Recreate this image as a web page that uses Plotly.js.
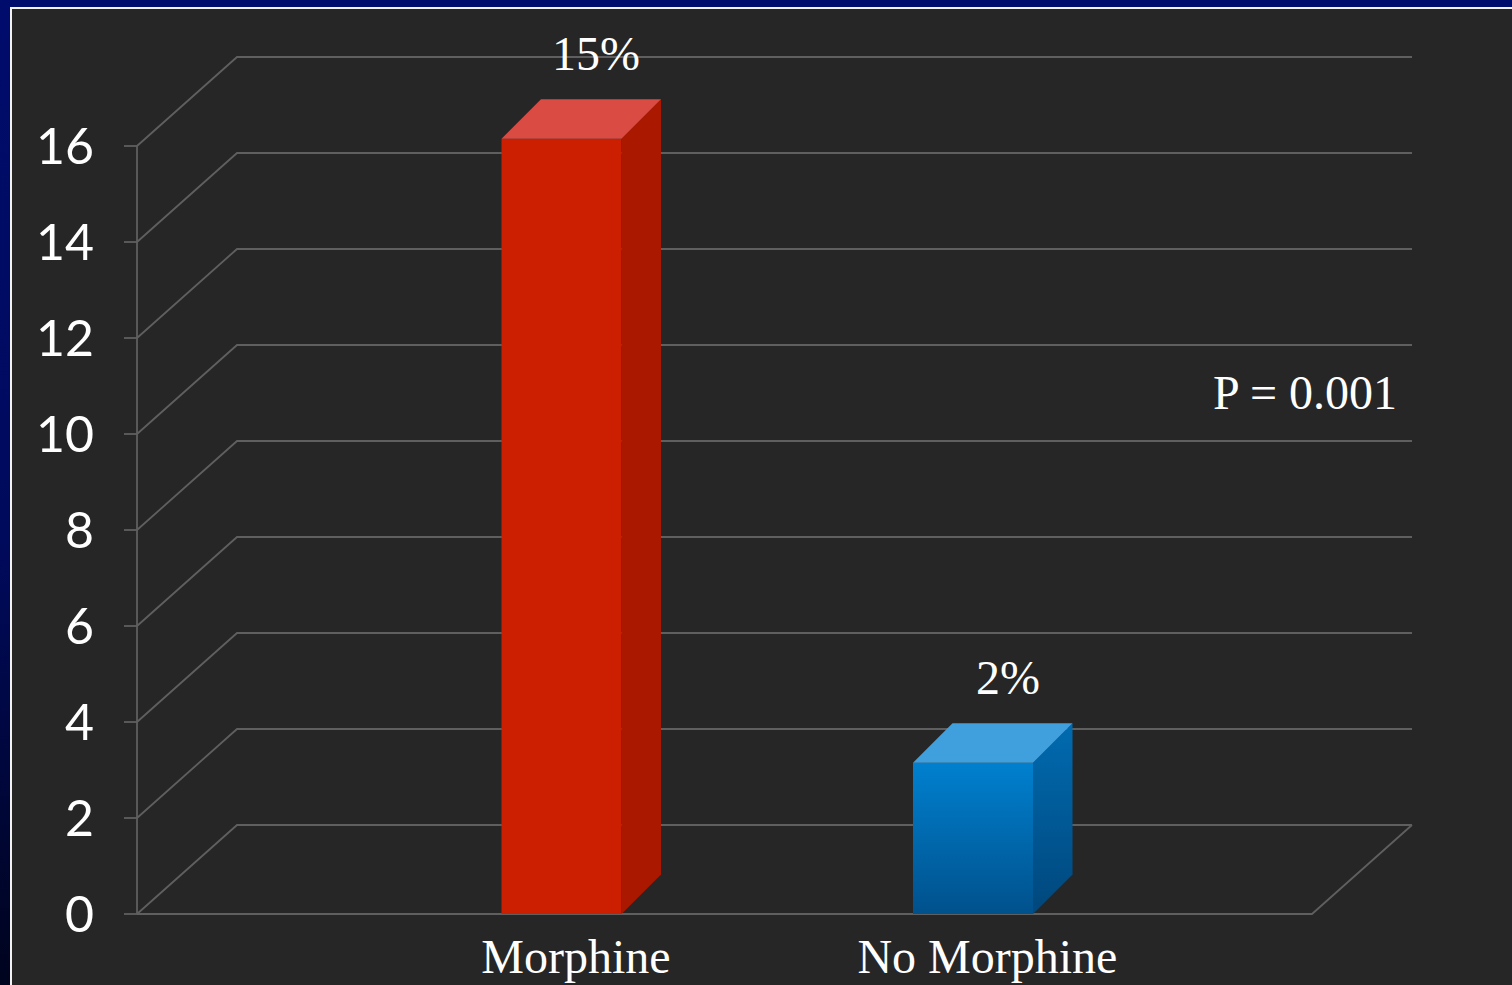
<!DOCTYPE html>
<html>
<head>
<meta charset="utf-8">
<script src="https://cdn.plot.ly/plotly-3.0.1.min.js"></script>
<style>
  html, body { margin: 0; padding: 0; background: #262626; overflow: hidden; }
  .frame { position: absolute; }
  #navTop { left: 0; top: 0; width: 1512px; height: 7px; background: #000c6c; }
  #navLeft { left: 0; top: 0; width: 10px; height: 985px;
             background: linear-gradient(#000c6c 0%, #000a5c 55%, #00041e 100%); }
  #lineTop { left: 10px; top: 7px; width: 1502px; height: 1.5px; background: #f2f2f2; }
  #lineLeft { left: 10px; top: 7px; width: 1.5px; height: 978px; background: #f2f2f2; }
  #chart { position: absolute; left: 0; top: 0; width: 1512px; height: 985px; }
</style>
</head>
<body>
<div class="frame" id="navTop"></div>
<div class="frame" id="navLeft"></div>
<div class="frame" id="lineTop"></div>
<div class="frame" id="lineLeft"></div>
<div id="chart"></div>
<script>
// ---- data ----
const categories = ['Morphine', 'No Morphine'];
const values = [15, 2];
const yTicks = [0, 2, 4, 6, 8, 10, 12, 14, 16];
const pValueText = 'P = 0.001';

// ---- pseudo-3D geometry (x in category units, y in value units) ----
const PX_X = 411.5;            // pixels per category step
const PX_Y = 48;               // pixels per value unit
const X0 = -0.0316;            // front-left edge of the floor / walls
const XR = 3.0668;             // back-right edge of the box
const DX = 100 / PX_X;         // box depth, horizontal
const DY = 89 / PX_Y;          // box depth, vertical
const BAR_HALF = 60 / PX_X;    // half width of a bar's front face
const BDX = 39.5 / PX_X;       // bar depth, horizontal
const BDY = 39.5 / PX_Y;       // bar depth, vertical
const LIFT = 1.15;             // front face sits above the back-wall value
const TICK = 13 / PX_X;        // tick mark length

const gridColor = '#5f5f5f';
const xPos = categories.map((c, i) => i + 1);

const traces = [];

// walls, floor and tick marks
const wx = [], wy = [];
yTicks.forEach(k => {
  wx.push(X0 - TICK, X0, null);
  wy.push(k, k, null);
  wx.push(X0, X0 + DX, XR, null);
  wy.push(k, k + DY, k + DY, null);
});
wx.push(X0, X0, null);
wy.push(0, yTicks[yTicks.length - 1], null);
wx.push(X0, XR - DX, XR, null);
wy.push(0, 0, DY, null);
traces.push({
  x: wx, y: wy, mode: 'lines', type: 'scatter',
  line: { color: gridColor, width: 1.8 },
  hoverinfo: 'skip', showlegend: false
});

// bar styles
const barStyles = [
  { front: { fillcolor: '#cc1e00' }, side: { fillcolor: '#ab1800' }, top: { fillcolor: '#da4b43' } },
  {
    front: { fillgradient: { type: 'vertical', colorscale: [[0, '#00518c'], [1, '#0080cf']] } },
    side: { fillgradient: { type: 'vertical', colorscale: [[0, '#00477c'], [1, '#006bb0']] } },
    top: { fillcolor: '#40a0de' }
  }
];

const annotations = [];
values.forEach((v, i) => {
  const p = xPos[i];
  const xl = p - BAR_HALF, xr = p + BAR_HALF;
  const yt = v + LIFT;
  const st = barStyles[i];
  const faces = [
    { x: [xl, xr, xr, xl, xl], y: [0, 0, yt, yt, 0], s: st.front },
    { x: [xr, xr + BDX, xr + BDX, xr, xr], y: [0, BDY, yt + BDY, yt, 0], s: st.side },
    { x: [xl, xr, xr + BDX, xl + BDX, xl], y: [yt, yt, yt + BDY, yt + BDY, yt], s: st.top }
  ];
  faces.forEach(f => {
    traces.push(Object.assign({
      x: f.x, y: f.y, type: 'scatter', mode: 'lines', fill: 'toself',
      line: { width: 0 }, hoverinfo: 'skip', showlegend: false
    }, f.s));
  });
  annotations.push({
    x: p + 0.085, y: yt + BDY, xref: 'x', yref: 'y',
    text: v + '%', showarrow: false, yanchor: 'bottom', yshift: 17,
    font: { family: 'Liberation Serif, Times New Roman, serif', size: 48, color: '#ffffff' }
  });
});

annotations.push({
  x: 2.807, y: 10.86, xref: 'x', yref: 'y', text: pValueText, showarrow: false,
  xanchor: 'center', yanchor: 'middle',
  font: { family: 'Liberation Serif, Times New Roman, serif', size: 48, color: '#ffffff' }
});

const XL = X0 - 17 / PX_X;
const layout = {
  width: 1512, height: 985,
  margin: { l: 120, r: 90, t: 40, b: 61, pad: 0 },
  paper_bgcolor: 'rgba(0,0,0,0)',
  plot_bgcolor: 'rgba(0,0,0,0)',
  showlegend: false,
  xaxis: {
    range: [XL, XL + 1302 / PX_X],
    showgrid: false, zeroline: false, showline: false, ticks: '',
    tickvals: xPos.map(p => p + 0.035), ticktext: categories,
    ticklabelstandoff: 0,
    tickfont: { family: 'Liberation Serif, Times New Roman, serif', size: 48, color: '#ffffff' },
    fixedrange: true
  },
  yaxis: {
    range: [-10 / PX_Y, -10 / PX_Y + 884 / PX_Y],
    showgrid: false, zeroline: false, showline: false, ticks: '',
    tickvals: yTicks, ticktext: yTicks.map(String),
    ticklabelstandoff: 25,
    tickfont: { family: 'Lato, Open Sans, sans-serif', size: 50, color: '#ffffff' },
    fixedrange: true
  },
  annotations: annotations
};

Plotly.newPlot('chart', traces, layout, { displayModeBar: false, staticPlot: true });
</script>
</body>
</html>
